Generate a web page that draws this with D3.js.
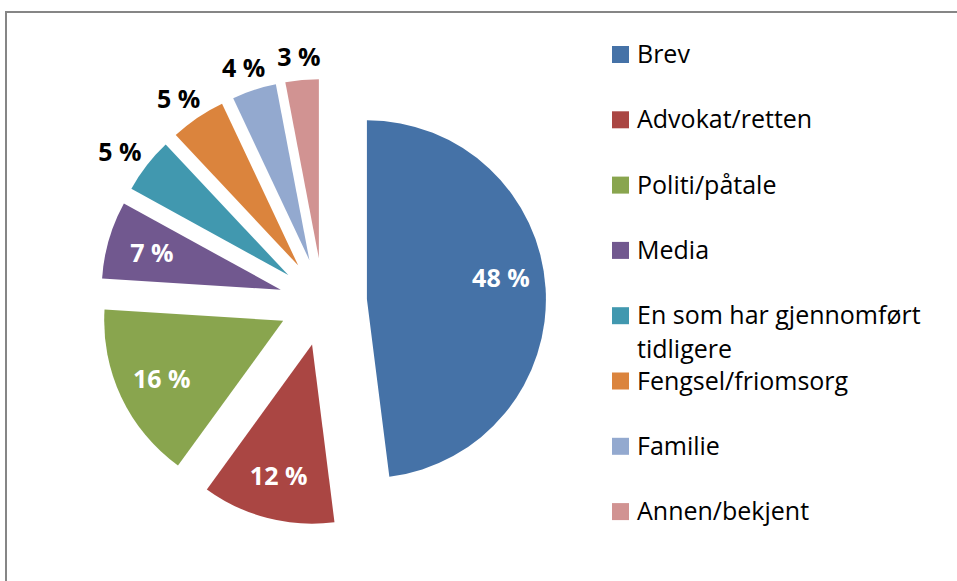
<!DOCTYPE html>
<html>
<head>
<meta charset="utf-8">
<script src="https://cdn.jsdelivr.net/npm/d3@7"></script>
<style>
  body { margin: 0; background: #fff; }
  svg { display: block; }
  text { font-family: "Open Sans", "DejaVu Sans", sans-serif; }
</style>
</head>
<body>
<div id="chart"></div>
<script>

var width = 957,
    height = 581;

// Data
var categories = ["Brev", "Advokat/retten", "Politi/påtale", "Media",
                  "En som har gjennomført tidligere", "Fengsel/friomsorg",
                  "Familie", "Annen/bekjent"];
var shares = [48, 12, 16, 7, 5, 5, 4, 3];
var colors = ["#4572A7", "#AA4643", "#89A54E", "#71588F",
              "#4198AF", "#DB843D", "#93A9CF", "#D19392"];
// slices whose label sits outside the pie
var outsideLabel = [false, false, false, false, true, true, true, true];

var cx = 323, cy = 302,
    radius = 179,
    explode = 44;

var svg = d3.select("#chart").append("svg")
    .attr("width", width)
    .attr("height", height);

// chart area frame (only left and top edges are visible)
svg.append("rect")
    .attr("x", 6)
    .attr("y", 12)
    .attr("width", width + 20)
    .attr("height", height + 20)
    .attr("fill", "none")
    .attr("stroke", "#868686")
    .attr("stroke-width", 2);

var pie = d3.pie()
    .sort(null)
    .value(function(d) { return d; });

var arc = d3.arc()
    .innerRadius(0)
    .outerRadius(radius);

var arcs = pie(shares);

function offset(d, dist) {
    var mid = (d.startAngle + d.endAngle) / 2;
    return [Math.sin(mid) * dist, -Math.cos(mid) * dist];
}

var pieLayer = svg.append("g")
    .attr("transform", "translate(" + cx + "," + cy + ")");

var slice = pieLayer.selectAll("g.slice")
    .data(arcs)
    .enter().append("g")
        .classed("slice", true)
        .attr("transform", function(d) {
            var o = offset(d, explode);
            return "translate(" + o[0] + "," + o[1] + ")";
        });

slice.append("path")
    .attr("d", arc)
    .attr("fill", function(d, i) { return colors[i]; });

// percent labels
slice.append("text")
    .text(function(d) { return Math.round(d.data) + " %"; })
    .attr("text-anchor", "middle")
    .attr("dominant-baseline", "central")
    .attr("font-size", 25)
    .attr("font-weight", "bold")
    .attr("fill", function(d, i) { return outsideLabel[i] ? "#000" : "#fff"; })
    .attr("transform", function(d, i) {
        var p;
        if (outsideLabel[i]) {
            var mid = (d.startAngle + d.endAngle) / 2;
            var base = offset(d, radius + 12);
            p = [base[0] + Math.sin(mid) * 22, base[1] - Math.cos(mid) * 12];
        } else {
            p = offset(d, radius * 0.75);
            // lift the big slice label a bit, as Excel does
            if (d.endAngle - d.startAngle > Math.PI / 2) p[1] -= 14;
        }
        return "translate(" + p[0] + "," + p[1] + ")";
    });

// legend
var legendX = 612,
    legendY = 54.5,
    legendStep = 65.3,
    swatch = 17,
    lineHeight = 34,
    maxTextWidth = 310;

var legend = svg.append("g")
    .attr("class", "legend")
    .selectAll("g")
    .data(categories)
    .enter().append("g")
        .attr("transform", function(d, i) {
            return "translate(" + legendX + "," + (legendY + i * legendStep) + ")";
        });

legend.append("rect")
    .attr("x", 0)
    .attr("y", -swatch / 2)
    .attr("width", swatch)
    .attr("height", swatch)
    .attr("fill", function(d, i) { return colors[i]; });

legend.append("text")
    .attr("x", 25)
    .attr("y", 8.5)
    .attr("font-size", 25)
    .attr("fill", "#000")
    .each(function(d) {
        // simple word wrap
        var t = d3.select(this);
        var words = d.split(" ");
        var line = [];
        var tspan = t.append("tspan").attr("x", 25).attr("dy", 0);
        words.forEach(function(w) {
            line.push(w);
            tspan.text(line.join(" "));
            if (tspan.node().getComputedTextLength() > maxTextWidth && line.length > 1) {
                line.pop();
                tspan.text(line.join(" "));
                line = [w];
                tspan = t.append("tspan").attr("x", 25).attr("dy", lineHeight).text(w);
            }
        });
    });

</script>
</body>
</html>
